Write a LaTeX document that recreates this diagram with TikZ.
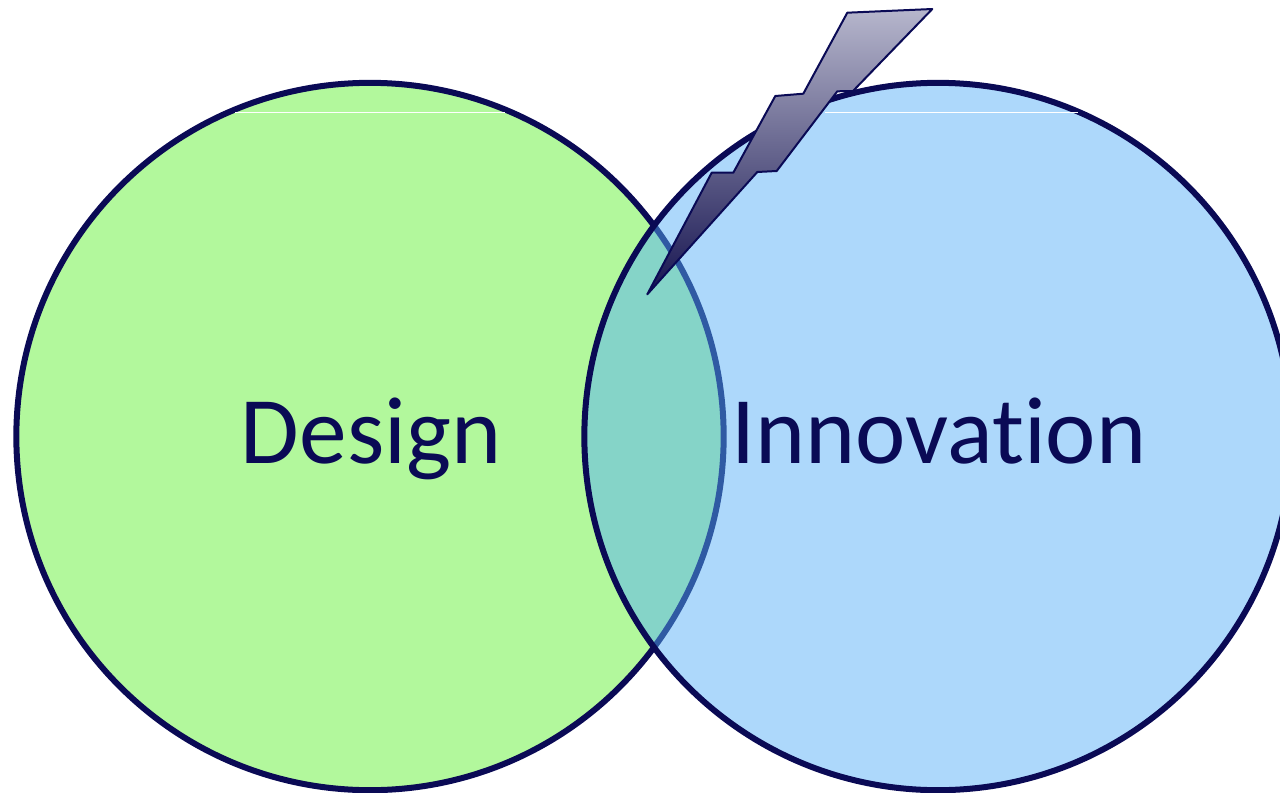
\documentclass[tikz,border=0pt]{standalone}
\usepackage{fontspec}
\setmainfont[Ligatures=NoCommon]{Carlito}
\usetikzlibrary{positioning}
\definecolor{linecolor}{RGB}{10, 10, 85}
\definecolor{designcolor}{RGB}{178, 248, 156}
\definecolor{innovationcolor}{RGB}{87, 175, 247}
\definecolor{boltlight}{RGB}{182, 182, 204}
\definecolor{boltmid}{RGB}{138, 136, 164}
\definecolor{boltdark}{RGB}{22, 20, 80}
\begin{document}
\begin{tikzpicture}[
  x = 0.75pt,
  y = -0.75pt,
  set/.style = {
    circle,
    draw = linecolor,
    line width = 4.5pt,
    minimum size = 530.5pt,
    inner sep = 0pt
  },
  setlabel/.style = {
    anchor = base,
    inner sep = 0pt,
    text = linecolor,
    font = \fontsize{71.5}{86}\selectfont
  },
  glint/.style = {
    draw = white,
    line width = 0.6pt
  }
]
\useasboundingbox (0,0) rectangle (1280,792);

% Circles
\node[set, fill = designcolor] (design) at (370,436.5) {};
\node[set, fill = innovationcolor, fill opacity = 0.485, draw opacity = 1] (innovation) at (938,436.5) {};

% Labels
\node[setlabel] (designlabel) at (371,463) {Design};
\node[setlabel] (innovationlabel) at (939,463) {Innovation};

% Highlights
\draw[glint] (235,112) -- (505,112);
\draw[glint] (825,112) -- (1078,112);

% Bolt
\shade[top color = boltlight, middle color = boltmid, bottom color = boltdark]
  (847.3,12.7) -- (932.3,9) -- (853,91) -- (837.3,91.3) -- (776.7,171) -- (757.3,172)
  -- (647.3,294.3) -- (711.7,172.7) -- (733.3,172.7) -- (775.3,96) -- (803.3,93.7) -- cycle;
\draw[linecolor, line width = 1.5pt, line join = round]
  (847.3,12.7) -- (932.3,9) -- (853,91) -- (837.3,91.3) -- (776.7,171) -- (757.3,172)
  -- (647.3,294.3) -- (711.7,172.7) -- (733.3,172.7) -- (775.3,96) -- (803.3,93.7) -- cycle;

\end{tikzpicture}
\end{document}
